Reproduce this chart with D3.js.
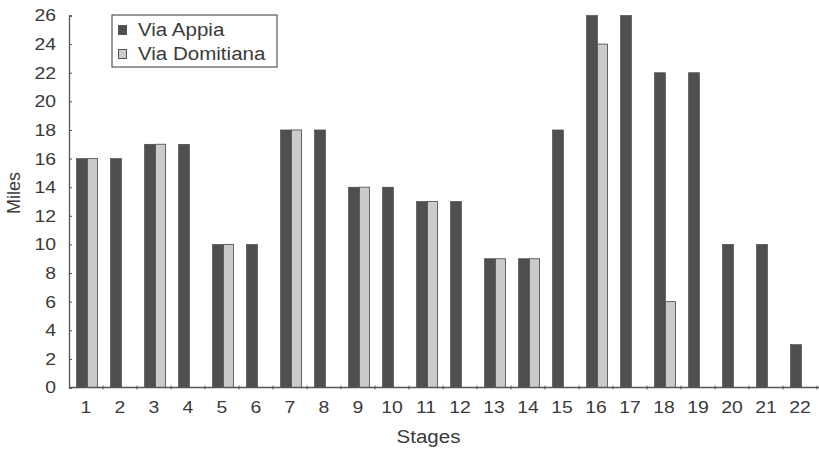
<!DOCTYPE html>
<html>
<head>
<meta charset="utf-8">
<script src="https://cdn.jsdelivr.net/npm/d3@7"></script>
<style>
  html, body { margin: 0; padding: 0; background: #fff; }
  svg { display: block; }
  text { font-family: "Liberation Sans", Arial, sans-serif; fill: #3a3a3a; }
</style>
</head>
<body>
<svg id="chart" width="819" height="452"></svg>
<script>
// Stage distances in Roman miles
const stages = ["1","2","3","4","5","6","7","8","9","10","11","12","13","14","15","16","17","18","19","20","21","22"];
const viaAppia = [16,16,17,17,10,10,18,18,14,14,13,13,9,9,18,26,26,22,22,10,10,3];
const viaDomitiana = [16,null,17,null,10,null,18,null,14,null,13,null,9,9,null,24,null,6,null,null,null,null];
const yTicks = [0,2,4,6,8,10,12,14,16,18,20,22,24,26];
const seriesNames = ["Via Appia", "Via Domitiana"];
const seriesColors = ["#4f4f4f", "#cbcbcb"];

const svg = d3.select("#chart");
const plot = { left: 69, right: 817, top: 15.5, bottom: 387.5 };

const x = d3.scaleBand().domain(stages).range([plot.left, plot.right]).padding(0);
const y = d3.scaleLinear().domain([0, 26]).range([plot.bottom, plot.top]);
const appiaW = 11, domW = 10, split = 1.5;

const g = svg.append("g");

// Bars: Via Appia on the left, Via Domitiana on the right of each stage
stages.forEach((s, i) => {
  const cx = x(s) + x.bandwidth() / 2 + split;
  g.append("rect")
    .attr("x", cx - appiaW)
    .attr("y", y(viaAppia[i]))
    .attr("width", appiaW)
    .attr("height", y(0) - y(viaAppia[i]))
    .attr("fill", seriesColors[0])
    .attr("stroke", "#444")
    .attr("stroke-width", 0.6);
  if (viaDomitiana[i] != null) {
    g.append("rect")
      .attr("x", cx)
      .attr("y", y(viaDomitiana[i]))
      .attr("width", domW)
      .attr("height", y(0) - y(viaDomitiana[i]))
      .attr("fill", seriesColors[1])
      .attr("stroke", "#555")
      .attr("stroke-width", 0.9);
  }
});

// Y axis
const yAxis = d3.axisLeft(y).tickValues(yTicks).tickSize(-3).tickPadding(13);
const ya = svg.append("g").attr("transform", `translate(${plot.left},0)`).call(yAxis);
ya.select(".domain").attr("stroke", "#555").attr("stroke-width", 1.3);
ya.selectAll(".tick line").attr("stroke", "#555");
ya.selectAll("text").attr("font-size", 17).attr("fill", "#3a3a3a")
  .attr("font-family", "Liberation Sans, Arial, sans-serif").classed("wide", true);

// X axis with ticks between stages
const xa = svg.append("g").attr("transform", `translate(0,${plot.bottom})`);
xa.append("line").attr("x1", plot.left).attr("x2", 819).attr("y1", 0).attr("y2", 0)
  .attr("stroke", "#555").attr("stroke-width", 1.3);
xa.selectAll(".sep").data(stages).enter().append("line")
  .attr("x1", d => x(d) + x.bandwidth()).attr("x2", d => x(d) + x.bandwidth())
  .attr("y1", -2).attr("y2", 2).attr("stroke", "#555");
xa.selectAll(".lbl").data(stages).enter().append("text")
  .attr("class", "wide")
  .attr("x", d => x(d) + x.bandwidth() / 2)
  .attr("y", 25)
  .attr("text-anchor", "middle")
  .attr("font-size", 17)
  .text(d => d);

// Axis titles
svg.append("text").attr("class", "wide").attr("x", 428.5).attr("y", 443).attr("text-anchor", "middle")
  .attr("font-size", 18).text("Stages");
svg.append("text").attr("transform", "translate(20,193) rotate(-90)")
  .attr("text-anchor", "middle").attr("font-size", 18).text("Miles");

// Legend
const lg = svg.append("g").attr("transform", "translate(112,15)");
lg.append("rect").attr("x", 0).attr("y", 0).attr("width", 165).attr("height", 52)
  .attr("fill", "#fff").attr("stroke", "#555").attr("stroke-width", 1.2);
seriesNames.forEach((n, i) => {
  lg.append("rect").attr("x", 6.5).attr("y", 10.5 + i * 24).attr("width", 8).attr("height", 9)
    .attr("fill", seriesColors[i]).attr("stroke", "#555").attr("stroke-width", 1);
  lg.append("text").attr("class", "wide").attr("x", 26).attr("y", 21 + i * 24)
    .attr("font-size", 18).text(n);
});

// Typeface in this chart is set slightly wide: stretch horizontal text
svg.selectAll("text.wide").each(function () {
  const len = this.getComputedTextLength();
  d3.select(this).attr("textLength", len * 1.14).attr("lengthAdjust", "spacingAndGlyphs");
});
</script>
</body>
</html>
